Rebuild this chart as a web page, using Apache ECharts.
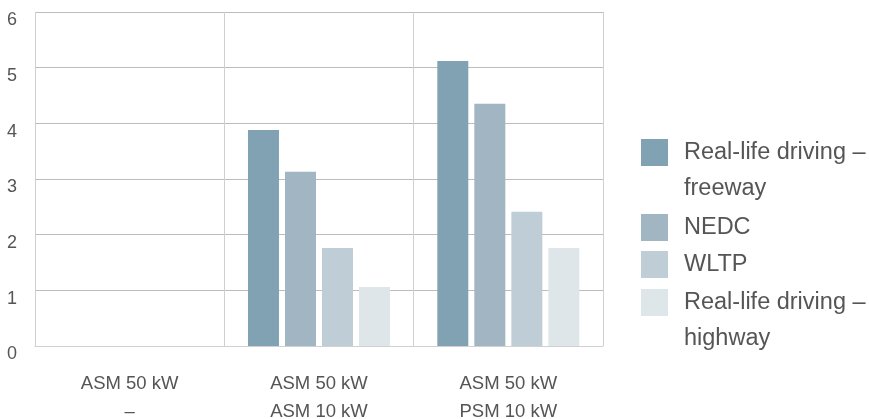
<!DOCTYPE html>
<html>
<head>
<meta charset="utf-8">
<script src="https://cdn.jsdelivr.net/npm/echarts@6/dist/echarts.min.js"></script>
<style>
html,body{margin:0;padding:0;background:#fff;}
#c{width:869px;height:419px;}
</style>
</head>
<body>
<div id="c"></div>
<script>
const categories = ['ASM 50 kW\n–', 'ASM 50 kW\nASM 10 kW', 'ASM 50 kW\nPSM 10 kW'];
const seriesNames = ['Real-life driving – freeway', 'NEDC', 'WLTP', 'Real-life driving – highway'];
const freeway = [null, 3.88, 5.12];
const nedc = [null, 3.13, 4.35];
const wltp = [null, 1.76, 2.41];
const highway = [null, 1.06, 1.76];
const yTicks = [0, 1, 2, 3, 4, 5, 6];

const colors = ['#80a2b2', '#a1b5c2', '#bfcdd6', '#dfe6ea'];
const values = [freeway, nedc, wltp, highway];
const textColor = '#555';
const font = 'Liberation Sans, Arial, sans-serif';

const chart = echarts.init(document.getElementById('c'));

function legendFor(i, top, twoLine) {
  return {
    show: true,
    orient: 'vertical',
    left: 641,
    top: top,
    padding: 0,
    itemWidth: 27,
    itemHeight: 27,
    icon: 'rect',
    selectedMode: false,
    formatter: function (n) { return twoLine ? '\n' + n.replace(' – ', ' –\n') : n; },
    data: [{
      name: seriesNames[i],
      itemStyle: { color: colors[i] },
      textStyle: twoLine
        ? { fontSize: 23.5, fontFamily: font, color: textColor, lineHeight: 36, padding: [0, 0, 0, 11] }
        : { fontSize: 23.5, fontFamily: font, color: textColor, lineHeight: 27, padding: [0, 0, 0, 11] }
    }]
  };
}

chart.setOption({
  animation: false,
  color: colors,
  grid: { left: 35, right: 266, top: 12, bottom: 73, containLabel: false, outerBoundsMode: 'none' },
  legend: [
    legendFor(0, 98.5, true),
    legendFor(1, 214, false),
    legendFor(2, 251, false),
    legendFor(3, 248.5, true)
  ],
  xAxis: {
    type: 'category',
    data: categories,
    axisLine: { show: true, lineStyle: { color: '#d0d0d0', width: 1 } },
    axisTick: { show: false },
    splitLine: { show: true, lineStyle: { color: '#d0d0d0', width: 1 } },
    axisLabel: {
      color: textColor, fontSize: 18.5, fontFamily: font,
      lineHeight: 28, margin: 24, verticalAlign: 'top'
    }
  },
  yAxis: {
    type: 'value',
    min: 0, max: 6, interval: 1,
    axisLine: { show: false },
    axisTick: { show: false },
    splitLine: { show: true, lineStyle: { color: '#bcbcbc', width: 1 } },
    axisLabel: {
      color: textColor, fontSize: 18, fontFamily: font,
      margin: 18, verticalAlign: 'top', lineHeight: 17,
      formatter: function (v) { return yTicks.indexOf(v) >= 0 ? String(v) : ''; }
    }
  },
  series: values.map(function (d, i) {
    return {
      name: seriesNames[i],
      type: 'bar',
      data: d,
      barWidth: 31,
      barGap: '19.4%',
      itemStyle: { color: colors[i] }
    };
  })
});
</script>
</body>
</html>
